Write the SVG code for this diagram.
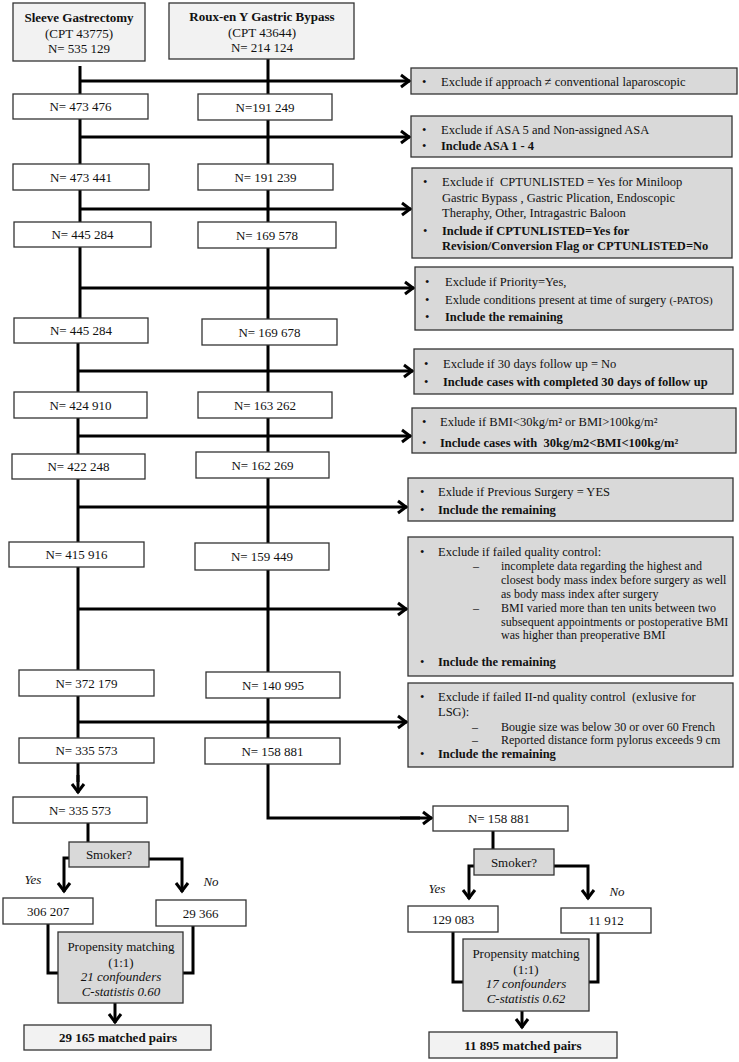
<svg xmlns="http://www.w3.org/2000/svg" width="739" height="1062" viewBox="0 0 739 1062">
<style>
text{font-family:"Liberation Serif","Times New Roman",serif;fill:#111;}
.n{font-size:13px;text-anchor:middle;}
.c{font-size:12.5px;white-space:pre;}
.s{font-size:12px;white-space:pre;}
.b{font-weight:bold;}
.i{font-style:italic;}
.m{text-anchor:middle;}
.wb{fill:#fff;stroke:#333;stroke-width:1.3;}
.gb{fill:#d9d9d9;stroke:#333;stroke-width:1.3;}
.lb{fill:#f2f2f2;stroke:#333;stroke-width:1.3;}
.ln{fill:none;stroke:#000;stroke-width:3;}
.ar{fill:none;stroke:#000;stroke-width:3;marker-end:url(#ah);}
</style>
<defs>
<marker id="ah" markerUnits="userSpaceOnUse" markerWidth="14" markerHeight="16" viewBox="0 0 14 16" refX="11" refY="8" orient="auto">
<path d="M2,2 L10,8 L2,14" fill="none" stroke="#000" stroke-width="3"/>
</marker>
</defs>
<rect width="739" height="1062" fill="#fff"/>
<g id="connectors">
<path class="ln" d="M80,66 V330 M78,330 V782"/>
<path class="ar" d="M78,775 V793"/>
<path class="ln" d="M268,59 V818 H420"/>
<path class="ar" d="M400,818 H432"/>
<path class="ar" d="M80,81 H410"/>
<path class="ar" d="M80,137 H410"/>
<path class="ar" d="M80,209 H411"/>
<path class="ar" d="M80,288 H414"/>
<path class="ar" d="M78,371 H413"/>
<path class="ar" d="M78,436 H411"/>
<path class="ar" d="M78,507 H407"/>
<path class="ar" d="M78,609 H407"/>
<path class="ar" d="M78,722 H407"/>
<path class="ln" d="M88,823 V842"/>
<path class="ar" d="M69,858 H64 V892"/>
<path class="ar" d="M149,859 H182 V892"/>
<path class="ln" d="M48,924 V973 H58"/>
<path class="ln" d="M193,926 V973 H183"/>
<path class="ar" d="M115,1003 V1023"/>
<path class="ln" d="M493,831 V849"/>
<path class="ar" d="M474,866 H469 V899"/>
<path class="ar" d="M554,866 H588 V899"/>
<path class="ln" d="M453,932 V982 H463"/>
<path class="ln" d="M598,933 V982 H589"/>
<path class="ar" d="M522,1011 V1028"/>
</g>
<g id="sleeve"><rect class="lb" x="13" y="3" width="132" height="58"/>
<text class="n b" x="79" y="21.5">Sleeve Gastrectomy</text>
<text class="n" x="79" y="37.5">(CPT 43775)</text>
<text class="n" x="79" y="52.5">N= 535 129</text></g>
<g id="rygb"><rect class="lb" x="169" y="3" width="185" height="56"/>
<text class="n b" x="262" y="20.5">Roux-en Y Gastric Bypass</text>
<text class="n" x="262" y="36.5">(CPT 43644)</text>
<text class="n" x="262" y="51.5">N= 214 124</text></g>
<g id="l1"><rect class="wb" x="13" y="94" width="135" height="25"/><text class="n" x="80.5" y="111">N= 473 476</text></g>
<g id="l2"><rect class="wb" x="13" y="164" width="136" height="26"/><text class="n" x="81" y="181.5">N= 473 441</text></g>
<g id="l3"><rect class="wb" x="14" y="222" width="137" height="25"/><text class="n" x="82.5" y="239">N= 445 284</text></g>
<g id="l4"><rect class="wb" x="14" y="318" width="134" height="25"/><text class="n" x="81" y="335">N= 445 284</text></g>
<g id="l5"><rect class="wb" x="14" y="392" width="133" height="26"/><text class="n" x="80.5" y="409.5">N= 424 910</text></g>
<g id="l6"><rect class="wb" x="12" y="454" width="133" height="25"/><text class="n" x="78.5" y="471">N= 422 248</text></g>
<g id="l7"><rect class="wb" x="9" y="542" width="135" height="25"/><text class="n" x="76.5" y="559">N= 415 916</text></g>
<g id="l8"><rect class="wb" x="19" y="670" width="135" height="26"/><text class="n" x="86.5" y="687.5">N= 372 179</text></g>
<g id="l9"><rect class="wb" x="19" y="738" width="135" height="25"/><text class="n" x="86.5" y="755">N= 335 573</text></g>
<g id="r1"><rect class="wb" x="198" y="94" width="134" height="26"/><text class="n" x="265" y="111.5">N=191 249</text></g>
<g id="r2"><rect class="wb" x="198" y="164" width="135" height="26"/><text class="n" x="265.5" y="181.5">N= 191 239</text></g>
<g id="r3"><rect class="wb" x="198" y="222" width="138" height="26"/><text class="n" x="267" y="239.5">N= 169 578</text></g>
<g id="r4"><rect class="wb" x="202" y="319" width="135" height="26"/><text class="n" x="269.5" y="336.5">N= 169 678</text></g>
<g id="r5"><rect class="wb" x="198" y="392" width="134" height="26"/><text class="n" x="265" y="409.5">N= 163 262</text></g>
<g id="r6"><rect class="wb" x="196" y="452" width="133" height="26"/><text class="n" x="262.5" y="469.5">N= 162 269</text></g>
<g id="r7"><rect class="wb" x="195" y="543" width="134" height="27"/><text class="n" x="262" y="561">N= 159 449</text></g>
<g id="r8"><rect class="wb" x="206" y="672" width="134" height="26"/><text class="n" x="273" y="689.5">N= 140 995</text></g>
<g id="r9"><rect class="wb" x="205" y="738" width="135" height="26"/><text class="n" x="272.5" y="755.5">N= 158 881</text></g>
<g id="g1"><rect class="gb" x="411" y="68" width="326" height="26"/>
<text class="c" x="422" y="86">•</text><text class="c" x="441" y="86">Exclude if approach ≠ conventional laparoscopic</text></g>
<g id="g2"><rect class="gb" x="411" y="116" width="321" height="41"/>
<text class="c" x="422" y="134">•</text><text class="c" x="441" y="134">Exclude if ASA 5 and Non-assigned ASA</text>
<text class="c" x="422" y="150">•</text><text class="c b" x="441" y="150">Include ASA 1 - 4</text></g>
<g id="g3"><rect class="gb" x="412" y="168" width="320" height="90"/>
<text class="c" x="423" y="186">•</text><text class="c" x="442" y="186">Exclude if  CPTUNLISTED = Yes for Miniloop</text>
<text class="c" x="442" y="202">Gastric Bypass , Gastric Plication, Endoscopic</text>
<text class="c" x="442" y="217">Theraphy, Other, Intragastric Baloon</text>
<text class="c" x="423" y="235">•</text><text class="c b" x="442" y="235">Include if CPTUNLISTED=Yes for</text>
<text class="c b" x="442" y="250">Revision/Conversion Flag or CPTUNLISTED=No</text></g>
<g id="g4"><rect class="gb" x="415" y="267" width="318" height="63"/>
<text class="c" x="425" y="286">•</text><text class="c" x="445" y="286">Exclude if Priority=Yes,</text>
<text class="c" x="425" y="304">•</text><text class="c" x="445" y="304">Exlude conditions present at time of surgery <tspan style="font-size:11px">(-PATOS)</tspan></text>
<text class="c" x="425" y="321">•</text><text class="c b" x="445" y="321">Include the remaining</text></g>
<g id="g5"><rect class="gb" x="414" y="349" width="319" height="45"/>
<text class="c" x="424" y="368">•</text><text class="c" x="443" y="368">Exclude if 30 days follow up = No</text>
<text class="c" x="424" y="386">•</text><text class="c b" x="443" y="386">Include cases with completed 30 days of follow up</text></g>
<g id="g6"><rect class="gb" x="412" y="408" width="324" height="45"/>
<text class="c" x="422" y="426">•</text><text class="c" x="440" y="426">Exlude if BMI&lt;30kg/m² or BMI&gt;100kg/m²</text>
<text class="c" x="422" y="447">•</text><text class="c b" x="440" y="447">Include cases with  30kg/m2&lt;BMI&lt;100kg/m²</text></g>
<g id="g7"><rect class="gb" x="408" y="478" width="325" height="43"/>
<text class="c" x="420" y="496">•</text><text class="c" x="438" y="496">Exlude if Previous Surgery = YES</text>
<text class="c" x="420" y="514">•</text><text class="c b" x="438" y="514">Include the remaining</text></g>
<g id="g8"><rect class="gb" x="408" y="537" width="325" height="139"/>
<text class="c" x="420" y="556">•</text><text class="c" x="438" y="556">Exclude if failed quality control:</text>
<text class="s" x="473" y="570">–</text><text class="s" x="501" y="570">incomplete data regarding the highest and</text>
<text class="s" x="501" y="584">closest body mass index before surgery as well</text>
<text class="s" x="501" y="598">as body mass index after surgery</text>
<text class="s" x="473" y="612">–</text><text class="s" x="501" y="612">BMI varied more than ten units between two</text>
<text class="s" x="501" y="626">subsequent appointments or postoperative BMI</text>
<text class="s" x="501" y="639">was higher than preoperative BMI</text>
<text class="c" x="420" y="666">•</text><text class="c b" x="438" y="666">Include the remaining</text></g>
<g id="g9"><rect class="gb" x="408" y="683" width="325" height="84"/>
<text class="c" x="420" y="701">•</text><text class="c" x="438" y="701">Exclude if failed II-nd quality control  (exlusive for</text>
<text class="c" x="438" y="716">LSG):</text>
<text class="s" x="472" y="731">–</text><text class="s" x="501" y="731">Bougie size was below 30 or over 60 French</text>
<text class="s" x="472" y="744">–</text><text class="s" x="501" y="744">Reported distance form pylorus exceeds 9 cm</text>
<text class="c" x="420" y="758">•</text><text class="c b" x="438" y="758">Include the remaining</text></g>
<g id="ls0"><rect class="wb" x="13" y="797" width="134" height="26"/><text class="n" x="80" y="814.5">N= 335 573</text></g>
<g id="lsmoke"><rect class="gb" x="69" y="842" width="80" height="25"/><text class="n" x="109" y="858.5">Smoker?</text></g>
<g id="lyes"><text class="n i" x="33" y="884">Yes</text></g>
<g id="lno"><text class="n i" x="211" y="886">No</text></g>
<g id="lsy"><rect class="wb" x="3" y="898" width="90" height="26"/><text class="n" x="48" y="915.5">306 207</text></g>
<g id="lsn"><rect class="wb" x="156" y="900" width="90" height="26"/><text class="n" x="200.5" y="917.5">29 366</text></g>
<g id="lprop"><rect class="gb" x="58" y="932" width="125" height="71"/>
<text class="n" x="121" y="950.5">Propensity matching</text>
<text class="n" x="121" y="966.5">(1:1)</text>
<text class="n i" x="121" y="980.5">21 confounders</text>
<text class="n i" x="121" y="995.5">C-statistis 0.60</text></g>
<g id="lmatch"><rect class="lb" x="24" y="1025" width="187" height="25"/><text class="n b" x="118" y="1042">29 165 matched pairs</text></g>
<g id="rs0"><rect class="wb" x="433" y="806" width="135" height="25"/><text class="n" x="499" y="823">N= 158 881</text></g>
<g id="rsmoke"><rect class="gb" x="474" y="849" width="80" height="26"/><text class="n" x="514" y="866.5">Smoker?</text></g>
<g id="ryes"><text class="n i" x="437" y="893">Yes</text></g>
<g id="rno"><text class="n i" x="617" y="896">No</text></g>
<g id="rsy"><rect class="wb" x="408" y="906" width="90" height="26"/><text class="n" x="453" y="923.5">129 083</text></g>
<g id="rsn"><rect class="wb" x="561" y="908" width="90" height="25"/><text class="n" x="606" y="925">11 912</text></g>
<g id="rprop"><rect class="gb" x="463" y="939" width="126" height="72"/>
<text class="n" x="526" y="957.5">Propensity matching</text>
<text class="n" x="526" y="973.5">(1:1)</text>
<text class="n i" x="526" y="987.5">17 confounders</text>
<text class="n i" x="526" y="1002.5">C-statistis 0.62</text></g>
<g id="rmatch"><rect class="lb" x="429" y="1032" width="188" height="26"/><text class="n b" x="523" y="1049.5">11 895 matched pairs</text></g>
</svg>
